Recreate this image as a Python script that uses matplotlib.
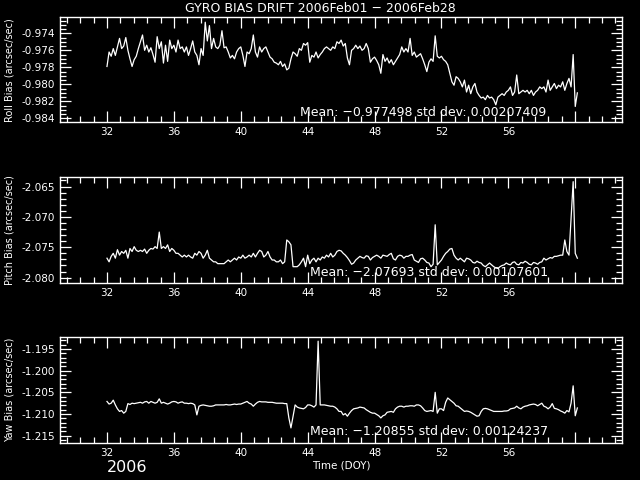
import numpy as np
import matplotlib
matplotlib.use("Agg")
from matplotlib import pyplot as plt
from matplotlib.ticker import MultipleLocator, AutoMinorLocator, FormatStrFormatter

# sample times (day of year), 3 hour steps
doy = np.arange(32, 60.126, 0.125)

roll = [
    -0.9779, -0.9762, -0.9767, -0.9758, -0.9766, -0.9756, -0.9746, -0.9758,
    -0.9755, -0.9745, -0.9760, -0.9770, -0.9779, -0.9771, -0.9767, -0.9758,
    -0.9750, -0.9742, -0.9760, -0.9754, -0.9762, -0.9757, -0.9765, -0.9774,
    -0.9744, -0.9758, -0.9750, -0.9775, -0.9754, -0.9773, -0.9748, -0.9758,
    -0.9754, -0.9762, -0.9748, -0.9758, -0.9756, -0.9762, -0.9756, -0.9766,
    -0.9758, -0.9749, -0.9762, -0.9766, -0.9777, -0.9758, -0.9766, -0.9727,
    -0.9749, -0.9731, -0.9758, -0.9746, -0.9756, -0.9758, -0.9754, -0.9737,
    -0.9757, -0.9756, -0.9762, -0.9769, -0.9766, -0.9770, -0.9762, -0.9758,
    -0.9756, -0.9766, -0.9779, -0.9762, -0.9764, -0.9758, -0.9742, -0.9762,
    -0.9768, -0.9756, -0.9762, -0.9758, -0.9756, -0.9762, -0.9768, -0.9770,
    -0.9774, -0.9775, -0.9777, -0.9773, -0.9779, -0.9776, -0.9783, -0.9781,
    -0.9770, -0.9762, -0.9764, -0.9767, -0.9758, -0.9760, -0.9752, -0.9754,
    -0.9751, -0.9774, -0.9766, -0.9768, -0.9762, -0.9769, -0.9765, -0.9762,
    -0.9758, -0.9756, -0.9758, -0.9760, -0.9756, -0.9758, -0.9750, -0.9752,
    -0.9748, -0.9755, -0.9752, -0.9769, -0.9777, -0.9760, -0.9758, -0.9754,
    -0.9758, -0.9755, -0.9760, -0.9758, -0.9752, -0.9758, -0.9774, -0.9770,
    -0.9768, -0.9772, -0.9777, -0.9787, -0.9765, -0.9773, -0.9769, -0.9775,
    -0.9771, -0.9777, -0.9773, -0.9769, -0.9765, -0.9756, -0.9762, -0.9758,
    -0.9762, -0.9746, -0.9766, -0.9762, -0.9768, -0.9766, -0.9764, -0.9770,
    -0.9777, -0.9785, -0.9774, -0.9770, -0.9773, -0.9743, -0.9767, -0.9769,
    -0.9767, -0.9771, -0.9773, -0.9777, -0.9787, -0.9797, -0.9801, -0.9791,
    -0.9793, -0.9797, -0.9803, -0.9795, -0.9809, -0.9801, -0.9811, -0.9803,
    -0.9799, -0.9809, -0.9813, -0.9816, -0.9815, -0.9818, -0.9813, -0.9816,
    -0.9815, -0.9818, -0.9824, -0.9815, -0.9813, -0.9811, -0.9813, -0.9809,
    -0.9807, -0.9803, -0.9813, -0.9809, -0.9789, -0.9811, -0.9809, -0.9807,
    -0.9809, -0.9807, -0.9811, -0.9807, -0.9813, -0.9809, -0.9807, -0.9803,
    -0.9805, -0.9803, -0.9809, -0.9795, -0.9807, -0.9803, -0.9799, -0.9805,
    -0.9801, -0.9803, -0.9797, -0.9807, -0.9799, -0.9793, -0.9803, -0.9765,
    -0.9826, -0.9810,
]

pitch = [
    -2.0768, -2.0774, -2.0765, -2.0760, -2.0768, -2.0754, -2.0763, -2.0757,
    -2.0760, -2.0755, -2.0768, -2.0752, -2.0757, -2.0749, -2.0755, -2.0757,
    -2.0755, -2.0757, -2.0753, -2.0760, -2.0755, -2.0752, -2.0753, -2.0749,
    -2.0752, -2.0725, -2.0752, -2.0749, -2.0752, -2.0746, -2.0757, -2.0752,
    -2.0755, -2.0760, -2.0760, -2.0763, -2.0766, -2.0763, -2.0766, -2.0763,
    -2.0766, -2.0768, -2.0760, -2.0763, -2.0757, -2.0760, -2.0768, -2.0763,
    -2.0755, -2.0768, -2.0771, -2.0774, -2.0774, -2.0777, -2.0777, -2.0777,
    -2.0777, -2.0774, -2.0771, -2.0774, -2.0771, -2.0768, -2.0771, -2.0766,
    -2.0768, -2.0763, -2.0768, -2.0766, -2.0763, -2.0766, -2.0760, -2.0766,
    -2.0760, -2.0755, -2.0757, -2.0766, -2.0763, -2.0757, -2.0766, -2.0771,
    -2.0771, -2.0774, -2.0774, -2.0771, -2.0777, -2.0774, -2.0738, -2.0741,
    -2.0746, -2.0782, -2.0782, -2.0782, -2.0779, -2.0774, -2.0768, -2.0782,
    -2.0763, -2.0777, -2.0771, -2.0768, -2.0774, -2.0768, -2.0771, -2.0766,
    -2.0768, -2.0763, -2.0766, -2.0760, -2.0766, -2.0763, -2.0757, -2.0755,
    -2.0756, -2.0760, -2.0763, -2.0767, -2.0772, -2.0778, -2.0776, -2.0771,
    -2.0768, -2.0765, -2.0767, -2.0768, -2.0764, -2.0765, -2.0771, -2.0767,
    -2.0765, -2.0763, -2.0765, -2.0768, -2.0763, -2.0764, -2.0765, -2.0762,
    -2.0760, -2.0769, -2.0771, -2.0765, -2.0763, -2.0764, -2.0768, -2.0765,
    -2.0765, -2.0763, -2.0762, -2.0771, -2.0773, -2.0775, -2.0769, -2.0768,
    -2.0771, -2.0775, -2.0776, -2.0782, -2.0778, -2.0713, -2.0779, -2.0775,
    -2.0771, -2.0765, -2.0760, -2.0757, -2.0753, -2.0752, -2.0763, -2.0768,
    -2.0771, -2.0768, -2.0771, -2.0774, -2.0768, -2.0769, -2.0771, -2.0775,
    -2.0776, -2.0773, -2.0775, -2.0776, -2.0780, -2.0782, -2.0779, -2.0776,
    -2.0779, -2.0782, -2.0784, -2.0785, -2.0782, -2.0780, -2.0779, -2.0776,
    -2.0778, -2.0779, -2.0775, -2.0774, -2.0778, -2.0779, -2.0775, -2.0776,
    -2.0773, -2.0775, -2.0778, -2.0779, -2.0775, -2.0776, -2.0778, -2.0775,
    -2.0774, -2.0768, -2.0771, -2.0769, -2.0767, -2.0768, -2.0765, -2.0765,
    -2.0764, -2.0763, -2.0763, -2.0738, -2.0757, -2.0763, -2.0702, -2.0642,
    -2.0760, -2.0768,
]

yaw = [
    -1.2071, -1.2077, -1.2075, -1.2068, -1.2079, -1.2088, -1.2094, -1.2092,
    -1.2098, -1.2094, -1.2076, -1.2078, -1.2075, -1.2076, -1.2075, -1.2074,
    -1.2073, -1.2075, -1.2072, -1.2071, -1.2075, -1.2071, -1.2073, -1.2075,
    -1.2073, -1.2065, -1.2075, -1.2073, -1.2075, -1.2077, -1.2075, -1.2072,
    -1.2071, -1.2072, -1.2075, -1.2073, -1.2072, -1.2075, -1.2075, -1.2076,
    -1.2075, -1.2076, -1.2079, -1.2102, -1.2082, -1.2080, -1.2079, -1.2080,
    -1.2081, -1.2082, -1.2082, -1.2081, -1.2079, -1.2079, -1.2079, -1.2079,
    -1.2079, -1.2078, -1.2079, -1.2079, -1.2078, -1.2077, -1.2078, -1.2077,
    -1.2077, -1.2075, -1.2073, -1.2071, -1.2075, -1.2077, -1.2082, -1.2077,
    -1.2073, -1.2071, -1.2072, -1.2072, -1.2072, -1.2073, -1.2073, -1.2073,
    -1.2074, -1.2075, -1.2075, -1.2075, -1.2075, -1.2076, -1.2076, -1.2109,
    -1.2132, -1.2105, -1.2079, -1.2084, -1.2086, -1.2087, -1.2088, -1.2085,
    -1.2079, -1.2079, -1.2081, -1.2084, -1.2079, -1.1932, -1.2079, -1.2079,
    -1.2079, -1.2080, -1.2081, -1.2082, -1.2082, -1.2084, -1.2088, -1.2094,
    -1.2094, -1.2102, -1.2099, -1.2105, -1.2098, -1.2092, -1.2088, -1.2087,
    -1.2086, -1.2084, -1.2085, -1.2086, -1.2090, -1.2093, -1.2096, -1.2098,
    -1.2098, -1.2101, -1.2104, -1.2109, -1.2104, -1.2102, -1.2096, -1.2095,
    -1.2094, -1.2096, -1.2088, -1.2084, -1.2082, -1.2082, -1.2084, -1.2082,
    -1.2082, -1.2081, -1.2081, -1.2082, -1.2079, -1.2079, -1.2081, -1.2086,
    -1.2092, -1.2094, -1.2093, -1.2092, -1.2094, -1.2050, -1.2098, -1.2088,
    -1.2088, -1.2092, -1.2073, -1.2063, -1.2067, -1.2071, -1.2075, -1.2081,
    -1.2082, -1.2086, -1.2090, -1.2094, -1.2093, -1.2094, -1.2096, -1.2099,
    -1.2102, -1.2105, -1.2104, -1.2094, -1.2088, -1.2087, -1.2088, -1.2090,
    -1.2092, -1.2094, -1.2094, -1.2094, -1.2094, -1.2094, -1.2093, -1.2093,
    -1.2092, -1.2088, -1.2087, -1.2086, -1.2082, -1.2086, -1.2088, -1.2084,
    -1.2082, -1.2081, -1.2079, -1.2078, -1.2077, -1.2078, -1.2081, -1.2078,
    -1.2075, -1.2082, -1.2084, -1.2088, -1.2084, -1.2076, -1.2087, -1.2088,
    -1.2090, -1.2093, -1.2095, -1.2098, -1.2092, -1.2095, -1.2075, -1.2035,
    -1.2104, -1.2086,
]

panels = [
    (roll, "Roll Bias (arcsec/sec)", (-0.98447, -0.97212), 0.002, 4, "%.3f",
     "Mean: \u22120.977498 std dev: 0.00207409", 0.427, 0.09),
    (pitch, "Pitch Bias (arcsec/sec)", (-2.08092, -2.06345), 0.005, 5, "%.3f",
     "Mean: \u22122.07693 std dev: 0.00107601", 0.445, 0.105),
    (yaw, "Yaw Bias (arcsec/sec)", (-1.21669, -1.19223), 0.005, 5, "%.3f",
     "Mean: \u22121.20855 std dev: 0.00124237", 0.445, 0.11),
]

plt.rcParams["font.family"] = "DejaVu Sans"
plt.rcParams["axes.unicode_minus"] = True

fig = plt.figure(figsize=(6.4, 4.8), dpi=100, facecolor="black")

# axes boxes in figure fractions (left, bottom, width, height)
boxes = [
    (0.094, 0.745, 0.878, 0.219),
    (0.094, 0.410, 0.878, 0.221),
    (0.094, 0.077, 0.878, 0.221),
]

for (vals, ylab, ylim, ystep, nminor, fmt, mtxt, mx, my), box in zip(panels, boxes):
    ax = fig.add_axes(box)
    ax.set_facecolor("black")
    ax.plot(doy, vals, color="white", lw=0.9)
    ax.set_xlim(29.2, 62.8)
    ax.set_ylim(*ylim)
    ax.set_xticks([32, 36, 40, 44, 48, 52, 56, 60])
    ax.set_xticklabels(["32", "36", "40", "44", "48", "52", "56", ""])
    ax.xaxis.set_minor_locator(AutoMinorLocator(5))
    ax.yaxis.set_major_locator(MultipleLocator(ystep))
    ax.yaxis.set_minor_locator(AutoMinorLocator(nminor))
    ax.yaxis.set_major_formatter(FormatStrFormatter(fmt))
    for s in ax.spines.values():
        s.set_color("white")
        s.set_linewidth(1.0)
    ax.tick_params(which="both", direction="in", colors="white",
                   top=True, right=True, labelsize=7.5, width=0.9)
    ax.tick_params(which="major", length=8)
    ax.tick_params(which="minor", length=4)
    ax.set_ylabel(ylab, color="white", fontsize=7)
    ax.yaxis.set_label_coords(-0.082, 0.5)
    ax.text(mx, my, mtxt, transform=ax.transAxes, color="white",
            fontsize=9, va="center", ha="left")
    if ylab.startswith("Yaw"):
        ax.set_xlabel("Time (DOY)", color="white", fontsize=7.5, labelpad=2)

fig.text(0.5, 0.983, "GYRO BIAS DRIFT 2006Feb01 \u2212 2006Feb28", color="white",
         fontsize=9, ha="center", va="center")
fig.text(0.167, 0.027, "2006", color="white", fontsize=11.5, ha="left", va="center")

fig.savefig("out.png", dpi=100, facecolor="black")
